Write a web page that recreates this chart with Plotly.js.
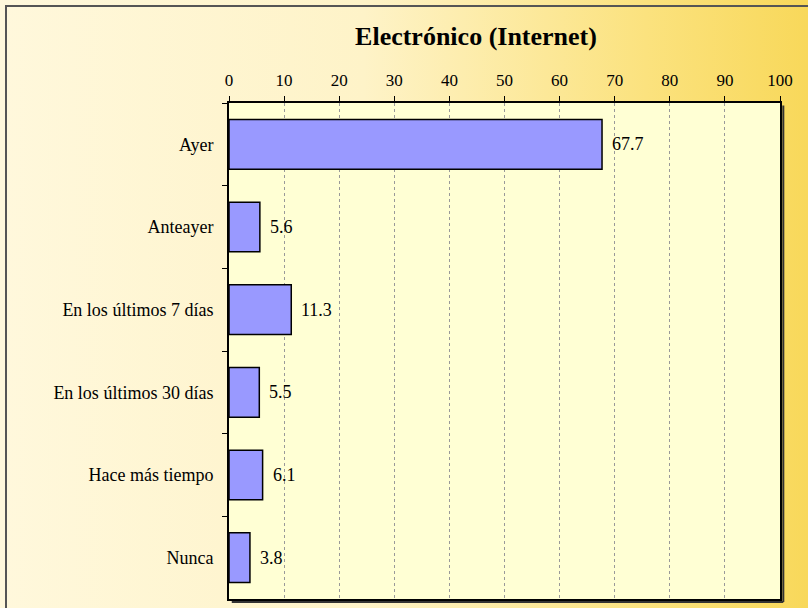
<!DOCTYPE html>
<html><head><meta charset="utf-8">
<script src="https://cdn.plot.ly/plotly-3.0.1.min.js"></script>
<style>
html,body{margin:0;padding:0;}
#wrap{position:relative;width:808px;height:608px;background:linear-gradient(to right,#FFF8DC 0%,#FEF3C8 45%,#FBE27E 80%,#F8D85A 100%);overflow:hidden;}
#frame{position:absolute;left:5px;top:5px;width:820px;height:620px;border-left:2px solid #555;border-top:2px solid #555;box-sizing:border-box;}
#chart{position:absolute;left:0;top:0;width:808px;height:608px;}
</style></head>
<body>
<div id="wrap"><div id="frame"></div><div id="chart"></div></div>
<script>
const categories = ["Ayer","Anteayer","En los últimos 7 días","En los últimos 30 días","Hace más tiempo","Nunca"];
const values = [67.7, 5.6, 11.3, 5.5, 6.1, 3.8];
const xTicks = [0,10,20,30,40,50,60,70,80,90,100];
const titleText = "Electrónico (Internet)";

const serif = "Liberation Serif, Times New Roman, serif";
const trace = {
  type: "bar", orientation: "h",
  x: values, y: categories,
  marker: {color: "#9999FF", line: {color: "#000", width: 1.5}},
  hoverinfo: "none"
};
const annotations = categories.map((c, i) => ({
  x: values[i], y: c, xref: "x", yref: "y",
  text: values[i].toFixed(1), showarrow: false,
  xanchor: "left", yanchor: "middle", xshift: 8,
  font: {family: serif, size: 18, color: "#000"}
}));
const layout = {
  width: 808, height: 608,
  margin: {l: 229, r: 28, t: 103, b: 9},
  paper_bgcolor: "rgba(0,0,0,0)",
  plot_bgcolor: "#FFFFD4",
  showlegend: false,
  bargap: 0.4,
  title: {text: "<b>" + titleText + "</b>", font: {family: serif, size: 26, color: "#000"},
          x: 476/808, xref: "container", xanchor: "center", y: 1 - 36/608, yanchor: "middle"},
  xaxis: {
    side: "top", range: [0, 100], tickvals: xTicks, ticktext: xTicks.map(String),
    ticks: "outside", ticklen: 5, tickcolor: "#000", tickwidth: 1,
    showgrid: true, gridcolor: "#999", griddash: "dot", gridwidth: 1,
    showline: true, linecolor: "#000", linewidth: 2, mirror: true,
    zeroline: false, tickfont: {family: serif, size: 17, color: "#000"},
    ticklabelstandoff: 3
  },
  yaxis: {
    autorange: "reversed", type: "category",
    ticks: "outside", tickson: "boundaries", ticklen: 5, tickcolor: "#000",
    showline: true, linecolor: "#000", linewidth: 2, mirror: true,
    showgrid: false, tickfont: {family: serif, size: 18, color: "#000"},
    ticklabelstandoff: 10
  },
  annotations: annotations,
  shapes: [
    {type: "line", xref: "paper", yref: "paper", x0: 1.006, x1: 1.006, y0: -0.006, y1: 0.995, line: {color: "#333", width: 2}},
    {type: "line", xref: "paper", yref: "paper", x0: 0.005, x1: 1.006, y0: -0.006, y1: -0.006, line: {color: "#333", width: 2}}
  ]
};
Plotly.newPlot("chart", [trace], layout, {displayModeBar: false, staticPlot: true});
</script>
</body></html>
